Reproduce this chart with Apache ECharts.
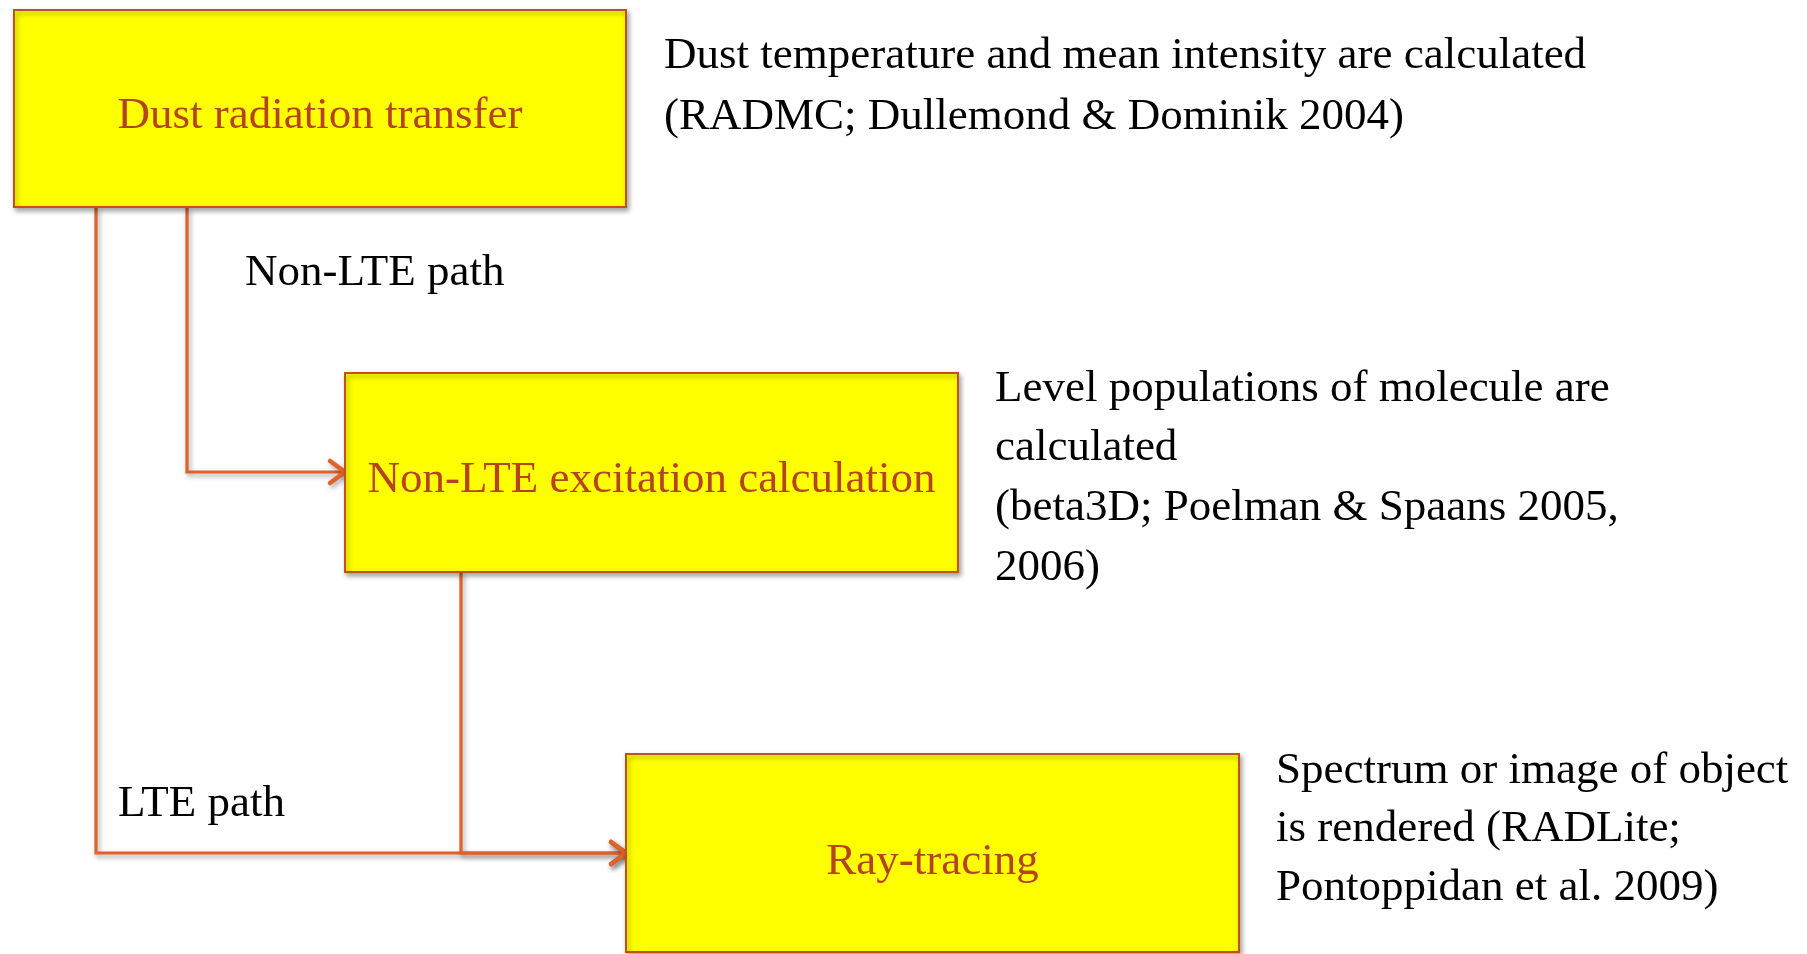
<!DOCTYPE html>
<html><head><meta charset="utf-8">
<script src="https://cdn.jsdelivr.net/npm/echarts@6/dist/echarts.min.js"></script>
<style>html,body{margin:0;padding:0;background:#fff;overflow:hidden}#c{width:1807px;height:954px}</style>
</head><body><div id="c"></div>
<script>
// ---- Data (diagram coordinates, in chart units: x 0..1807, y 0..954 top-down) ----
const boxLabels = ['Dust radiation transfer', 'Non-LTE excitation calculation', 'Ray-tracing'];
const boxLeft   = [14, 345, 626];
const boxRight  = [626, 958, 1239];
const boxTop    = [10, 373, 754];
const boxBottom = [207, 572, 952];
const boxLabelY = [116, 480, 862];

const connectorNames = ['LTE path', 'Non-LTE path', 'Excitation to ray-tracing'];
const connectorX = [[96, 96, 626], [187, 187, 345], [461, 461, 626]];
const connectorY = [[207, 853, 853], [207, 472, 472], [572, 853, 853]];

const noteTexts = [
  'Dust temperature and mean intensity are calculated',
  '(RADMC; Dullemond & Dominik 2004)',
  'Level populations of molecule are',
  'calculated',
  '(beta3D; Poelman & Spaans 2005,',
  '2006)',
  'Spectrum or image of object',
  'is rendered (RADLite;',
  'Pontoppidan et al. 2009)',
  'Non-LTE path',
  'LTE path'
];
const noteX = [664, 664, 995, 995, 995, 995, 1276, 1276, 1276, 245, 118];
const noteY = [56, 117, 389, 448, 508, 568, 771, 829, 888, 273, 804];

// ---- Styles ----
const FONT = '"Liberation Serif", "DejaVu Serif", serif';
const FS = 45;
const BOX_FILL = '#FFFF00';
const BOX_BORDER = '#C0501C';
const BOX_TEXT = '#B5431F';
const LINE_COLOR = '#E0622A';

const chart = echarts.init(document.getElementById('c'), null, {renderer: 'canvas'});

const shadow = {shadowBlur: 5, shadowColor: 'rgba(0,0,0,0.35)', shadowOffsetX: 2, shadowOffsetY: 3};

chart.setOption({
  animation: false,
  backgroundColor: '#ffffff',
  grid: {left: 0, right: 0, top: 0, bottom: 0},
  xAxis: {type: 'value', min: 0, max: 1807, show: false},
  yAxis: {type: 'value', min: 0, max: 954, inverse: true, show: false},
  series: [
    {
      type: 'custom',
      name: 'connectors',
      coordinateSystem: 'cartesian2d',
      clip: false,
      z: 1,
      data: connectorNames.map((n, i) => ({name: n, value: [connectorX[i][0], connectorY[i][0]]})),
      renderItem: function (params, api) {
        const i = params.dataIndex;
        const pts = connectorX[i].map((x, k) => api.coord([x, connectorY[i][k]]));
        const end = pts[pts.length - 1];
        const prev = pts[pts.length - 2];
        const dx = end[0] - prev[0], dy = end[1] - prev[1];
        const len = Math.sqrt(dx * dx + dy * dy) || 1;
        const ux = dx / len, uy = dy / len;
        const L = 15, W = 11;
        const a1 = [end[0] - ux * L - uy * W, end[1] - uy * L + ux * W];
        const a2 = [end[0] - ux * L + uy * W, end[1] - uy * L - ux * W];
        return {
          type: 'group',
          children: [
            {type: 'polyline', shape: {points: pts},
             style: Object.assign({fill: null, stroke: LINE_COLOR, lineWidth: 3.2}, shadow)},
            {type: 'polyline', shape: {points: [a1, end, a2]},
             style: Object.assign({fill: null, stroke: LINE_COLOR, lineWidth: 4.5, lineCap: 'round', lineJoin: 'round'}, shadow)}
          ]
        };
      }
    },
    {
      type: 'custom',
      name: 'boxes',
      coordinateSystem: 'cartesian2d',
      clip: false,
      z: 2,
      data: boxLabels.map((n, i) => ({name: n, value: [boxLeft[i], boxTop[i]]})),
      renderItem: function (params, api) {
        const i = params.dataIndex;
        const p0 = api.coord([boxLeft[i], boxTop[i]]);
        const p1 = api.coord([boxRight[i], boxBottom[i]]);
        const c = api.coord([(boxLeft[i] + boxRight[i]) / 2, boxLabelY[i]]);
        return {
          type: 'group',
          children: [
            {type: 'rect', shape: {x: p0[0], y: p0[1], width: p1[0] - p0[0], height: p1[1] - p0[1]},
             style: Object.assign({fill: BOX_FILL, stroke: BOX_BORDER, lineWidth: 2}, shadow)},
            {type: 'text', x: c[0], y: c[1],
             style: {text: boxLabels[i], font: FS + 'px ' + FONT, fill: BOX_TEXT, align: 'center', verticalAlign: 'middle'}}
          ]
        };
      }
    },
    {
      type: 'custom',
      name: 'notes',
      coordinateSystem: 'cartesian2d',
      clip: false,
      z: 3,
      data: noteTexts.map((t, i) => ({name: t, value: [noteX[i], noteY[i]]})),
      renderItem: function (params, api) {
        const i = params.dataIndex;
        const p = api.coord([noteX[i], noteY[i]]);
        return {type: 'text', x: p[0], y: p[1],
          style: {text: noteTexts[i], font: FS + 'px ' + FONT, fill: '#000000', align: 'left', verticalAlign: 'middle'}};
      }
    }
  ]
});
</script>
</body></html>
